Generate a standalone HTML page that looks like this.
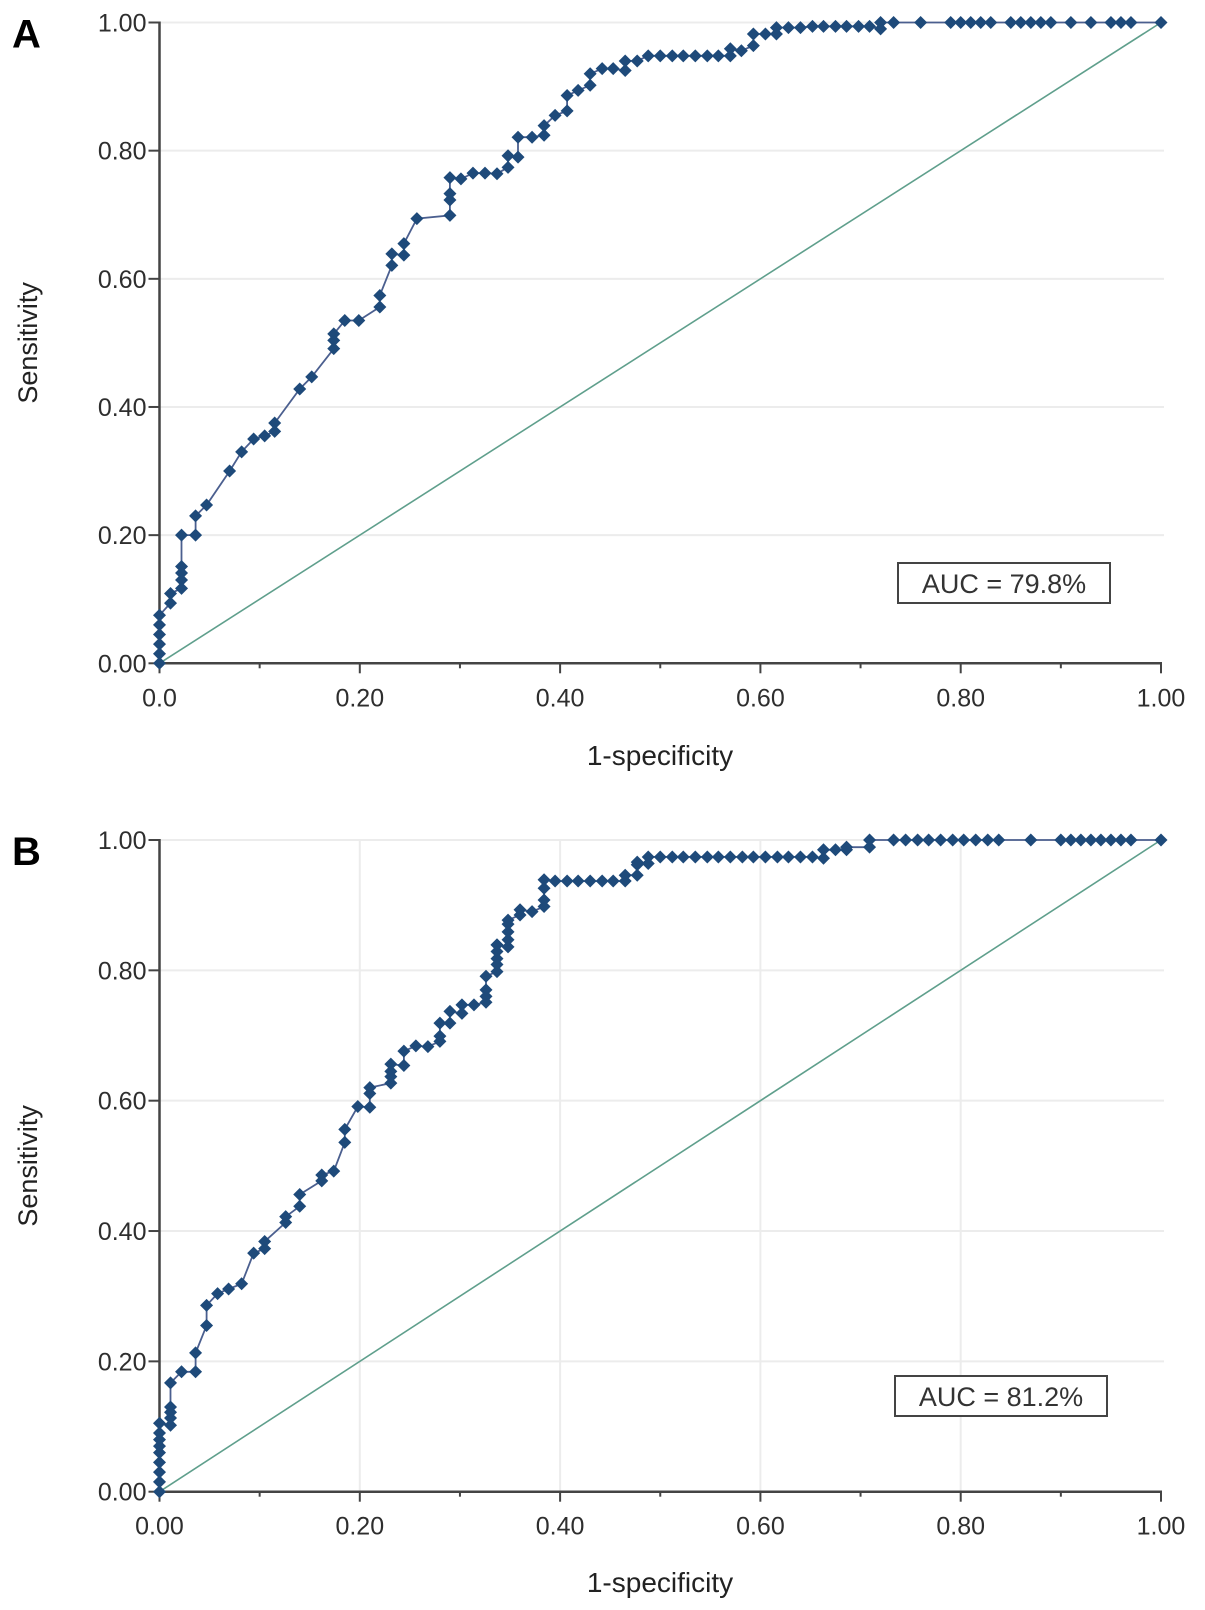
<!DOCTYPE html>
<html><head><meta charset="utf-8">
<style>
html,body{margin:0;padding:0;background:#fff;}
svg{display:block;font-family:"Liberation Sans",Arial,sans-serif;}
</style></head>
<body>
<svg id="fig" width="1205" height="1610" viewBox="0 0 1205 1610" xmlns="http://www.w3.org/2000/svg"></svg>
<script>
// Panel A data
const aX = [0,0,0,0,0,0,0.011,0.011,0.022,0.022,0.022,0.022,0.022,0.036,0.036,0.047,0.07,0.082,0.094,0.105,0.115,0.115,0.140,0.152,0.174,0.174,0.174,0.185,0.199,0.220,0.220,0.232,0.232,0.244,0.244,0.257,0.290,0.290,0.290,0.290,0.301,0.313,0.325,0.337,0.348,0.348,0.358,0.358,0.372,0.384,0.384,0.395,0.407,0.407,0.418,0.430,0.430,0.442,0.453,0.465,0.465,0.477,0.488,0.500,0.512,0.523,0.535,0.547,0.558,0.570,0.570,0.581,0.593,0.593,0.605,0.616,0.616,0.628,0.640,0.652,0.663,0.675,0.686,0.698,0.709,0.720,0.720,0.733,0.760,0.790,0.800,0.810,0.820,0.830,0.850,0.860,0.870,0.880,0.890,0.910,0.930,0.950,0.960,0.970,1.0];
const aY = [0,0.015,0.03,0.045,0.06,0.075,0.094,0.109,0.117,0.130,0.141,0.151,0.200,0.200,0.230,0.247,0.300,0.330,0.350,0.355,0.362,0.375,0.428,0.447,0.491,0.504,0.514,0.535,0.535,0.556,0.574,0.621,0.639,0.637,0.655,0.694,0.699,0.723,0.733,0.758,0.756,0.765,0.765,0.764,0.774,0.792,0.790,0.821,0.821,0.824,0.839,0.855,0.862,0.886,0.894,0.902,0.920,0.928,0.928,0.925,0.940,0.940,0.948,0.948,0.948,0.948,0.948,0.948,0.948,0.948,0.959,0.956,0.964,0.982,0.982,0.982,0.992,0.992,0.992,0.994,0.994,0.994,0.994,0.994,0.994,0.99,1.0,1.0,1.0,1.0,1.0,1.0,1.0,1.0,1.0,1.0,1.0,1.0,1.0,1.0,1.0,1.0,1.0,1.0,1.0];
// Panel B data
const bX = [0,0,0,0,0,0,0,0,0,0.011,0.011,0.011,0.011,0.011,0.022,0.036,0.036,0.047,0.047,0.058,0.069,0.082,0.094,0.105,0.105,0.126,0.126,0.140,0.140,0.162,0.162,0.174,0.185,0.185,0.198,0.210,0.210,0.210,0.231,0.231,0.231,0.231,0.244,0.244,0.256,0.268,0.280,0.280,0.280,0.290,0.290,0.302,0.302,0.314,0.326,0.326,0.326,0.326,0.337,0.337,0.337,0.337,0.337,0.337,0.348,0.348,0.348,0.348,0.348,0.360,0.360,0.372,0.384,0.384,0.384,0.384,0.395,0.407,0.418,0.430,0.442,0.453,0.465,0.465,0.477,0.477,0.477,0.488,0.488,0.500,0.512,0.523,0.535,0.547,0.558,0.570,0.582,0.593,0.605,0.617,0.628,0.640,0.652,0.663,0.663,0.675,0.686,0.686,0.709,0.709,0.733,0.745,0.757,0.768,0.780,0.792,0.803,0.815,0.827,0.838,0.870,0.900,0.910,0.920,0.930,0.940,0.950,0.960,0.970,1.0];
const bY = [0,0.015,0.03,0.045,0.06,0.07,0.08,0.09,0.105,0.102,0.113,0.122,0.130,0.167,0.184,0.184,0.213,0.255,0.286,0.304,0.311,0.319,0.366,0.373,0.384,0.413,0.422,0.438,0.456,0.477,0.486,0.492,0.536,0.556,0.591,0.590,0.611,0.620,0.627,0.637,0.645,0.656,0.654,0.676,0.684,0.683,0.691,0.699,0.719,0.719,0.737,0.734,0.747,0.747,0.751,0.760,0.770,0.791,0.798,0.809,0.818,0.829,0.839,0.839,0.836,0.847,0.859,0.871,0.877,0.885,0.893,0.890,0.898,0.908,0.926,0.939,0.937,0.937,0.937,0.937,0.937,0.937,0.937,0.946,0.946,0.962,0.966,0.964,0.974,0.974,0.974,0.974,0.974,0.974,0.974,0.974,0.974,0.974,0.974,0.974,0.974,0.974,0.974,0.972,0.985,0.985,0.985,0.989,0.989,1.0,1.0,1.0,1.0,1.0,1.0,1.0,1.0,1.0,1.0,1.0,1.0,1.0,1.0,1.0,1.0,1.0,1.0,1.0,1.0,1.0];
const xTickLabelsA = ["0.0","0.20","0.40","0.60","0.80","1.00"];
const xTickLabelsB = ["0.00","0.20","0.40","0.60","0.80","1.00"];
const yTickLabels = ["0.00","0.20","0.40","0.60","0.80","1.00"];
const tickValues = [0,0.2,0.4,0.6,0.8,1.0];
const minorTicks = [0.1,0.3,0.5,0.7,0.9];

const NS = "http://www.w3.org/2000/svg";
const svg = document.getElementById('fig');
function mk(tag, attrs, parent, text){
  const e = document.createElementNS(NS, tag);
  for (const k in attrs) e.setAttribute(k, attrs[k]);
  if (text !== undefined) e.textContent = text;
  parent.appendChild(e);
  return e;
}

function panel(cfg, xs, ys, xLabels){
  const g = mk('g', {}, svg);
  
  
  const sx = v => cfg.x0 + v * (cfg.x1 - cfg.x0);
  const sy = v => cfg.y0 - v * (cfg.y0 - cfg.y1);
  tickValues.forEach(v => {
    if (v > 0) {
      const gl = mk('line', {x1:cfg.x0, x2:cfg.x1+3, y1:sy(v), y2:sy(v), stroke:'#ececec', 'stroke-width':2}, g);
      
      
    }
    if (cfg.vgrid && v > 0 && v < 1) {
      const vl = mk('line', {x1:sx(v), x2:sx(v), y1:cfg.y1, y2:cfg.y0, stroke:'#ececec', 'stroke-width':2}, g);
      
      
    }
  });
  const diag = mk('line', {x1:sx(0), y1:sy(0), x2:sx(1), y2:sy(1), stroke:'#5f9f8c', 'stroke-width':1.6}, g);
  
  
  const ya = mk('line', {x1:cfg.x0, x2:cfg.x0, y1:cfg.y1-1, y2:cfg.y0+1, stroke:'#444', 'stroke-width':2.5}, g);
  
  
  const xa = mk('line', {x1:cfg.x0-1, x2:cfg.x1+1, y1:cfg.y0, y2:cfg.y0, stroke:'#444', 'stroke-width':2.5}, g);
  
  
  tickValues.forEach((v, i) => {
    const t = mk('line', {x1:cfg.x0-11, x2:cfg.x0, y1:sy(v), y2:sy(v), stroke:'#444', 'stroke-width':2}, g);
    
    
    const tl = mk('text', {x:cfg.x0-13, y:sy(v)+9, 'text-anchor':'end', 'font-size':25, fill:'#2e2e2e'}, g, yTickLabels[i]);
    
    
    const xt = mk('line', {x1:sx(v), x2:sx(v), y1:cfg.y0, y2:cfg.y0+10, stroke:'#444', 'stroke-width':2}, g);
    
    
    const xl = mk('text', {x:sx(v), y:cfg.y0+43, 'text-anchor':'middle', 'font-size':25, fill:'#2e2e2e'}, g, xLabels[i]);
    
    
  });
  minorTicks.forEach(v => {
    const mt = mk('line', {x1:sx(v), x2:sx(v), y1:cfg.y0, y2:cfg.y0+5, stroke:'#444', 'stroke-width':2}, g);
    
    
  });
  const pts = xs.map((x, i) => sx(x).toFixed(1) + ',' + sy(ys[i]).toFixed(1)).join(' ');
  const pl = mk('polyline', {points:pts, fill:'none', stroke:'#4b5f8f', 'stroke-width':1.8}, g);
  
  
  xs.forEach((x, i) => {
    const cx = sx(x), cy = sy(ys[i]), r = 6.5;
    const d = mk('polygon', {points:`${cx},${cy-r} ${cx+r},${cy} ${cx},${cy+r} ${cx-r},${cy}`, fill:'#1e4a7a'}, g);
    
    
  });
  const pn = mk('text', {x:12, y:cfg.y1+25, 'font-size':40, 'font-weight':'bold', fill:'#000'}, g, cfg.id);
  
  
  const yt = mk('text', {x:0, y:0, transform:`translate(37,${(cfg.y0+cfg.y1)/2}) rotate(-90)`, 'text-anchor':'middle', 'font-size':27, fill:'#222'}, g, 'Sensitivity');
  
  
  const xtt = mk('text', {x:660, y:cfg.xTitleY, 'text-anchor':'middle', 'font-size':28, fill:'#222'}, g, '1-specificity');
  
  
  const box = mk('rect', {x:cfg.bx, y:cfg.by, width:212, height:40, fill:'#fff', stroke:'#444', 'stroke-width':2}, g);
  
  
  const at = mk('text', {x:cfg.bx+106, y:cfg.by+30, 'text-anchor':'middle', 'font-size':27, fill:'#333'}, g, cfg.auc);
  
  
}

panel({id:'A', x0:159.5, x1:1161, y0:663.3, y1:22.5, vgrid:false, xTitleY:765, bx:898, by:563, auc:'AUC = 79.8%'}, aX, aY, xTickLabelsA);
panel({id:'B', x0:159.5, x1:1161, y0:1491.7, y1:840, vgrid:true, xTitleY:1592, bx:895, by:1376, auc:'AUC = 81.2%'}, bX, bY, xTickLabelsB);
</script>
</body></html>
